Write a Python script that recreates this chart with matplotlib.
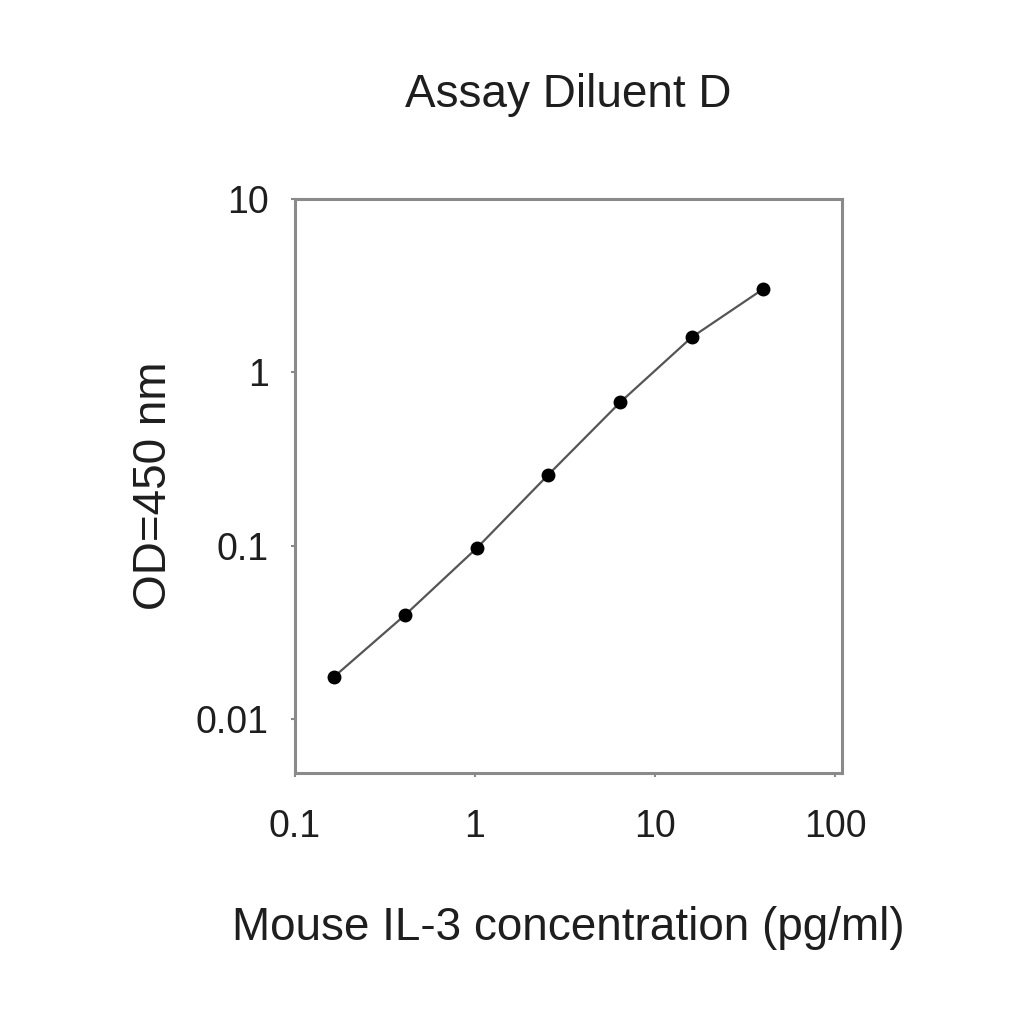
import matplotlib
matplotlib.use("Agg")
import matplotlib.pyplot as plt
from matplotlib.ticker import FixedLocator, NullLocator

plt.rcParams["font.family"] = ["Liberation Sans", "DejaVu Sans"]

# -- Data ----------------------------------------------------------
conc = [0.164, 0.41, 1.024, 2.56, 6.4, 16.0, 40.0]  # pg/ml
od = [0.0175, 0.040, 0.097, 0.257, 0.67, 1.59, 3.02]

x_ticks = [0.1, 1, 10, 100]
x_tick_labels = ["0.1", "1", "10", "100"]
y_ticks = [0.01, 0.1, 1, 10]
y_tick_labels = ["0.01", "0.1", "1", "10"]

SPINE = "#8a8a8a"
LINE = "#555555"
TEXT = "#1e1e1e"

fig = plt.figure(figsize=(10.24, 10.24), dpi=100)
ax = fig.add_axes([0.288, 0.245, 0.534, 0.561])

ax.plot(conc, od, color=LINE, lw=1.6, marker="o", ms=9,
        mfc="black", mec="black", zorder=3)

ax.set_xscale("log")
ax.set_yscale("log")
ax.set_xlim(0.1, 109)
ax.set_ylim(0.0049, 10)

ax.xaxis.set_major_locator(FixedLocator(x_ticks))
ax.yaxis.set_major_locator(FixedLocator(y_ticks))
ax.xaxis.set_minor_locator(NullLocator())
ax.yaxis.set_minor_locator(NullLocator())
ax.set_xticklabels(x_tick_labels)
ax.set_yticklabels(y_tick_labels)

for s in ax.spines.values():
    s.set_color(SPINE)
    s.set_linewidth(2.2)

ax.tick_params(axis="both", direction="out", length=3, width=1.5,
               color=SPINE, labelsize=27, labelcolor=TEXT)
ax.tick_params(axis="x", pad=23)
ax.tick_params(axis="y", pad=16)

ax.set_xlabel("Mouse IL-3 concentration (pg/ml)", fontsize=33,
              color=TEXT, labelpad=44)
ax.set_ylabel("OD=450 nm", fontsize=33, color=TEXT, labelpad=14)
ax.set_title("Assay Diluent D", fontsize=33, color=TEXT, pad=66)

fig.savefig("out.png", dpi=100, facecolor="white")
